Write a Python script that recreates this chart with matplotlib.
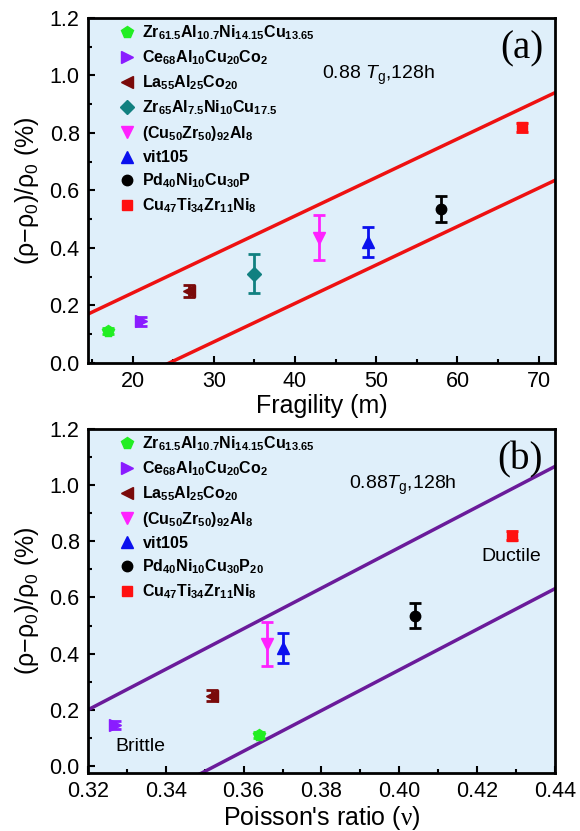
import matplotlib
matplotlib.use("Agg")
import matplotlib.pyplot as plt
import numpy as np

plt.rcParams["font.family"] = ["Liberation Sans", "DejaVu Sans"]
plt.rcParams["mathtext.fontset"] = "custom"
plt.rcParams["mathtext.rm"] = "Liberation Sans"
plt.rcParams["mathtext.it"] = "Liberation Sans:italic"
plt.rcParams["mathtext.bf"] = "Liberation Sans:bold"
plt.rcParams["mathtext.sf"] = "Liberation Serif"

# alloys (order as in legend)
labels_a = [r"$\mathbf{Zr_{61.5}Al_{10.7}Ni_{14.15}Cu_{13.65}}$",
            r"$\mathbf{Ce_{68}Al_{10}Cu_{20}Co_{2}}$",
            r"$\mathbf{La_{55}Al_{25}Co_{20}}$",
            r"$\mathbf{Zr_{65}Al_{7.5}Ni_{10}Cu_{17.5}}$",
            r"$\mathbf{(Cu_{50}Zr_{50})_{92}Al_{8}}$",
            r"$\mathbf{vit105}$",
            r"$\mathbf{Pd_{40}Ni_{10}Cu_{30}P}$",
            r"$\mathbf{Cu_{47}Ti_{34}Zr_{11}Ni_{8}}$"]
labels_b = [r"$\mathbf{Zr_{61.5}Al_{10.7}Ni_{14.15}Cu_{13.65}}$",
            r"$\mathbf{Ce_{68}Al_{10}Cu_{20}Co_{2}}$",
            r"$\mathbf{La_{55}Al_{25}Co_{20}}$",
            r"$\mathbf{(Cu_{50}Zr_{50})_{92}Al_{8}}$",
            r"$\mathbf{vit105}$",
            r"$\mathbf{Pd_{40}Ni_{10}Cu_{30}P_{20}}$",
            r"$\mathbf{Cu_{47}Ti_{34}Zr_{11}Ni_{8}}$"]
markers = ["p", ">", "<", "D", "v", "^", "o", "s"]
msizes = [8.5, 8, 8, 7.5, 8.5, 8.5, 7.5, 6.5]
colors = ["#22ee22", "#8a1cff", "#7a0a0a", "#118080", "#ff22ff", "#0a10ee", "#000000", "#ff1010"]

fragility = [17, 21, 27, 35, 43, 49, 58, 68]
drho = [0.11, 0.145, 0.25, 0.31, 0.435, 0.42, 0.535, 0.82]
drho_err = [0.01, 0.015, 0.02, 0.068, 0.078, 0.053, 0.045, 0.015]

# Poisson's ratio (no value for Zr65Al7.5Ni10Cu17.5)
poisson = [0.364, 0.327, 0.352, None, 0.366, 0.370, 0.404, 0.429]

# guide lines: y = slope * (x - x0) + y0
lines_a = [(0.01339, 14.5, 0.17), (0.01337, 24.5, 0.0)]
lines_b = [(7.22, 0.32, 0.20), (7.23, 0.3527, 0.0)]

bg = "#dfeffa"

fig = plt.figure(figsize=(5.8, 8.31), dpi=100)
ax1 = fig.add_axes([0.1517, 0.5632, 0.805, 0.4152])
ax2 = fig.add_axes([0.1517, 0.0698, 0.805, 0.414])


def style(ax):
    ax.set_facecolor(bg)
    for s in ax.spines.values():
        s.set_linewidth(2)
    ax.tick_params(which="both", direction="in", top=False, right=False,
                   labelsize=15.5, width=1.5)
    ax.tick_params(which="major", length=5, pad=6)
    ax.tick_params(which="minor", length=3)
    ax.set_ylim(0, 1.2)
    ax.set_yticks(np.arange(0, 1.21, 0.2))
    ax.set_yticks(np.arange(0.1, 1.2, 0.2), minor=True)
    ax.yaxis.set_major_formatter(matplotlib.ticker.FormatStrFormatter("%.1f"))
    ax.set_ylabel("(\u03c1\u2212\u03c1$_0$)/\u03c1$_0$ (%)", fontsize=18, labelpad=6)


def legend(ax, labels):
    h, l = ax.get_legend_handles_labels()
    h = [hh[0] for hh in h]
    ax.legend(h, l, loc="upper left", frameon=False, fontsize=11.5, handlelength=1,
              handletextpad=0.45, labelspacing=0.4, borderaxespad=0.2,
              bbox_to_anchor=(0.045, 1.012))


# ---- panel (a)
style(ax1)
ax1.set_xlim(14.5, 72)
ax1.set_xticks(range(20, 71, 10))
ax1.set_xticks(range(15, 72, 10), minor=True)
xs = np.array([14.5, 72])
for k, x0, y0 in lines_a:
    ax1.plot(xs, k * (xs - x0) + y0, color="#ee1111", lw=2.5, zorder=2)
for x, y, e, m, s, c, lab in zip(fragility, drho, drho_err, markers, msizes, colors, labels_a):
    ax1.errorbar(x, y, yerr=e, fmt=m, color=c, ms=s, capsize=4, elinewidth=2,
                 capthick=2, label=lab, zorder=3)
ax1.set_xlabel("Fragility (m)", fontsize=18, labelpad=1)
ax1.text(43.3, 1.0, r"0.88 $\mathit{T}_{\rm g}$,128h", fontsize=14, va="center")
ax1.text(0.975, 0.965, "(a)", transform=ax1.transAxes, ha="right", va="top",
         fontsize=28, family="Liberation Serif")
legend(ax1, labels_a)

# ---- panel (b)
style(ax2)
ax2.set_ylim(-0.025, 1.2)
ax2.set_xlim(0.32, 0.44)
ax2.set_xticks(np.arange(0.32, 0.441, 0.02))
ax2.set_xticks(np.arange(0.33, 0.44, 0.02), minor=True)
ax2.xaxis.set_major_formatter(matplotlib.ticker.FormatStrFormatter("%.2f"))
xs = np.array([0.32, 0.44])
for k, x0, y0 in lines_b:
    ax2.plot(xs, k * (xs - x0) + y0, color="#6a1b9a", lw=2.5, zorder=2)
bi = 0
for x, y, e, m, s, c in zip(poisson, drho, drho_err, markers, msizes, colors):
    if x is None:
        continue
    ax2.errorbar(x, y, yerr=e, fmt=m, color=c, ms=s, capsize=4, elinewidth=2,
                 capthick=2, label=labels_b[bi], zorder=3)
    bi += 1
ax2.set_xlabel(r"Poisson's ratio ($\mathsf{\nu}$)", fontsize=18, labelpad=1)
ax2.text(0.387, 1.0, r"0.88$\mathit{T}_{\rm g}$,128h", fontsize=14, va="center")
ax2.text(0.4287, 0.747, "Ductile", fontsize=14, ha="center", va="center")
ax2.text(0.3334, 0.071, "Brittle", fontsize=14, ha="center", va="center")
ax2.text(0.975, 0.965, "(b)", transform=ax2.transAxes, ha="right", va="top",
         fontsize=28, family="Liberation Serif")
legend(ax2, labels_b)

fig.savefig("out.png", dpi=100)
